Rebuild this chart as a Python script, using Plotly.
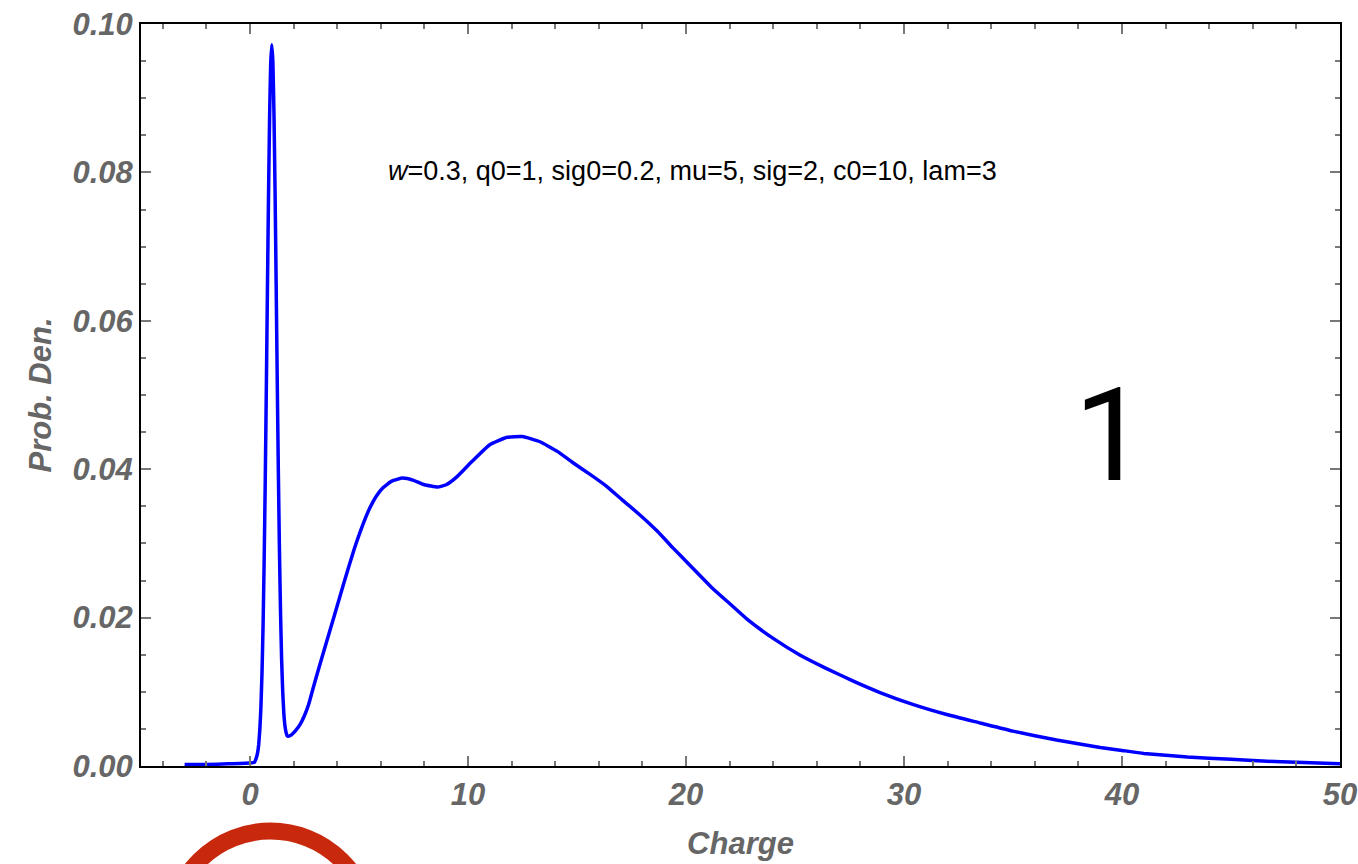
import plotly.graph_objects as go

# Charge spectrum (probability density vs. charge)
charge = [
    -3.0, -2.0, -1.0, 0.0, 0.2, 0.3, 0.35, 0.4, 0.45, 0.5, 0.55, 0.6, 0.65, 0.7,
    0.75, 0.8, 0.85, 0.9, 0.95, 1.0, 1.05, 1.1, 1.15, 1.2, 1.25, 1.3, 1.35, 1.4,
    1.45, 1.5, 1.55, 1.6, 1.65, 1.7, 1.76, 1.9, 2.1, 2.3, 2.5, 2.7, 2.85, 3.1,
    3.5, 3.9, 4.35, 4.8, 5.2, 5.5, 5.8, 6.1, 6.5, 7.0, 7.5, 8.0, 8.6, 9.0, 9.5,
    10.2, 11.0, 11.8, 12.5, 13.3, 14.1, 14.8, 15.6, 16.4, 17.1, 17.9, 18.7, 19.4,
    20.2, 21.2, 22.0, 22.8, 24.0, 25.2, 26.4, 27.7, 28.9, 30.4, 32.0, 33.5, 35.0,
    37.0, 39.0, 40.0, 41.0, 43.0, 45.0, 47.0, 49.0, 50.0,
]
density = [
    0.0002, 0.0002, 0.0003, 0.0004, 0.0005, 0.0012, 0.0018, 0.0029, 0.0049, 0.0079,
    0.0125, 0.0190, 0.0278, 0.0386, 0.0511, 0.0643, 0.0770, 0.0876, 0.0947, 0.0972,
    0.0948, 0.0878, 0.0774, 0.0649, 0.0519, 0.0398, 0.0292, 0.0208, 0.0144, 0.0101,
    0.0072, 0.0055, 0.0046, 0.0041, 0.0040, 0.0042, 0.0048, 0.0056, 0.0068, 0.0084,
    0.0100, 0.0126, 0.0166, 0.0206, 0.0251, 0.0294, 0.0327, 0.0348, 0.0364, 0.0375,
    0.0384, 0.0388, 0.0385, 0.0379, 0.0376, 0.0379, 0.0390, 0.0411, 0.0433, 0.0443,
    0.0444, 0.0437, 0.0424, 0.0409, 0.0393, 0.0376, 0.0358, 0.0338, 0.0316, 0.0294,
    0.0270, 0.0240, 0.0219, 0.0198, 0.0172, 0.0150, 0.0132, 0.0114, 0.0099, 0.0083,
    0.0069, 0.0058, 0.0047, 0.0035, 0.0025, 0.0021, 0.0017, 0.0012, 0.0009, 0.0006,
    0.0004, 0.0003,
]

x_ticks = [0, 10, 20, 30, 40, 50]
y_ticks = [0.00, 0.02, 0.04, 0.06, 0.08, 0.10]
y_tick_text = ["0.00", "0.02", "0.04", "0.06", "0.08", "0.10"]

param_text = "<i>w</i>=0.3, q0=1, sig0=0.2, mu=5, sig=2, c0=10, lam=3"
panel_label = "1"

tick_font = dict(family="Liberation Sans, Arial, sans-serif", size=31,
                 color="#666666", weight="bold", style="italic")

fig = go.Figure()
fig.add_trace(go.Scatter(
    x=charge, y=density, mode="lines",
    line=dict(color="#0000ff", width=3.5, shape="spline", smoothing=0.4),
    showlegend=False, hoverinfo="skip",
))

axis_common = dict(
    showgrid=False, zeroline=False, automargin=False,
    showline=True, linecolor="black", linewidth=2, mirror="allticks",
    ticks="inside", ticklen=10, tickwidth=1.5, tickcolor="#777777",
    tickfont=tick_font,
)

fig.update_xaxes(
    range=[-5, 50], tickvals=x_ticks,
    minor=dict(dtick=2, tick0=0, ticks="inside", ticklen=5, tickwidth=1.5,
               tickcolor="#777777"),
    title=dict(text="Charge", font=tick_font, standoff=21),
    **axis_common,
)
fig.update_yaxes(
    range=[0, 0.1], tickvals=y_ticks, ticktext=y_tick_text,
    minor=dict(dtick=0.005, tick0=0, ticks="inside", ticklen=5, tickwidth=1.5,
               tickcolor="#777777"),
    title=dict(text="Prob. Den.", font=tick_font, standoff=12),
    **axis_common,
)

fig.add_annotation(
    x=6.25, y=0.0802, xref="x", yref="y", xanchor="left", yanchor="middle",
    text=param_text, showarrow=False,
    font=dict(family="Liberation Sans, Arial, sans-serif", size=27, color="black"),
)
fig.add_annotation(
    x=39.45, y=0.0445, xref="x", yref="y", xanchor="center", yanchor="middle",
    text=panel_label, showarrow=False,
    font=dict(family="Roboto, sans-serif", size=130, color="black"),
)

# red ring mark below the frame
fig.add_shape(
    type="circle", xref="paper", yref="paper",
    x0=0.0242, x1=0.1918, y0=-0.3585, y1=-0.0876,
    line=dict(color="#c8290c", width=17), layer="above",
)

fig.update_layout(
    width=1358, height=864,
    margin=dict(l=141, r=18, t=24, b=98),
    paper_bgcolor="white", plot_bgcolor="white",
)

fig.write_html("out.html")
